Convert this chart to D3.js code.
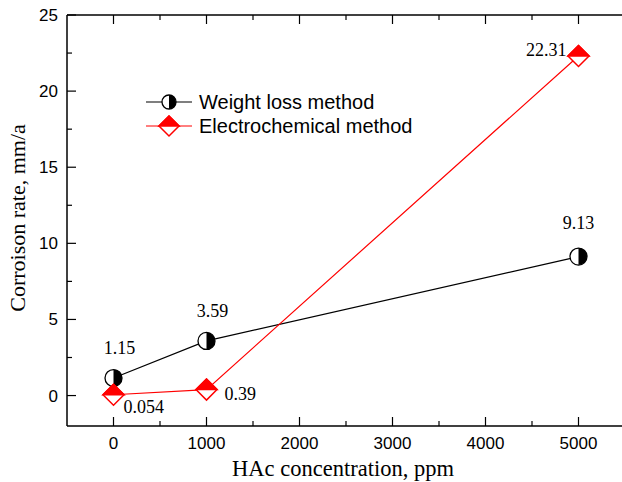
<!DOCTYPE html>
<html>
<head>
<meta charset="utf-8">
<script src="https://cdn.jsdelivr.net/npm/d3@7"></script>
<style>
  body { margin: 0; background: #fff; }
  svg { display: block; }
</style>
</head>
<body>
<div id="chart"></div>
<script>
// data
const concentrations = [0, 1000, 5000];
const weightLoss = [1.15, 3.59, 9.13];
const electrochem = [0.054, 0.39, 22.31];
const weightLabels = ["1.15", "3.59", "9.13"];
const electroLabels = ["0.054", "0.39", "22.31"];
const xTicks = [0, 1000, 2000, 3000, 4000, 5000];
const yTicks = [0, 5, 10, 15, 20, 25];
const seriesNames = ["Weight loss method", "Electrochemical method"];

const W = 622, H = 482;
const SANS = "'Liberation Sans', Arial, sans-serif";
const SERIF = "'Liberation Serif', 'Times New Roman', serif";

const svg = d3.select("#chart").append("svg")
  .attr("width", W).attr("height", H);

const x = d3.scaleLinear().domain([-500, 5500]).range([67, 625]);
const y = d3.scaleLinear().domain([-2, 25]).range([426, 15]);

// frame lines (no right border visible)
svg.append("line").attr("x1", x(-500)).attr("x2", W + 5)
  .attr("y1", y(-2)).attr("y2", y(-2)).attr("stroke", "#000").attr("stroke-width", 1.5);
svg.append("line").attr("x1", x(-500)).attr("x2", W + 5)
  .attr("y1", y(25)).attr("y2", y(25)).attr("stroke", "#000").attr("stroke-width", 1.5);
svg.append("line").attr("x1", x(-500)).attr("x2", x(-500))
  .attr("y1", y(-2)).attr("y2", y(25)).attr("stroke", "#000").attr("stroke-width", 1.5);

// inward ticks
const xMinor = d3.range(500, 5500, 1000);
const yMinor = d3.range(2.5, 25, 5);
const tickG = svg.append("g").attr("stroke", "#000").attr("stroke-width", 1.2);
xTicks.forEach(v => {
  tickG.append("line").attr("x1", x(v)).attr("x2", x(v)).attr("y1", y(-2)).attr("y2", y(-2) - 9);
  tickG.append("line").attr("x1", x(v)).attr("x2", x(v)).attr("y1", y(25)).attr("y2", y(25) + 9);
});
xMinor.forEach(v => {
  tickG.append("line").attr("x1", x(v)).attr("x2", x(v)).attr("y1", y(-2)).attr("y2", y(-2) - 5);
  tickG.append("line").attr("x1", x(v)).attr("x2", x(v)).attr("y1", y(25)).attr("y2", y(25) + 5);
});
yTicks.forEach(v => {
  tickG.append("line").attr("x1", x(-500)).attr("x2", x(-500) + 9).attr("y1", y(v)).attr("y2", y(v));
});
yMinor.forEach(v => {
  tickG.append("line").attr("x1", x(-500)).attr("x2", x(-500) + 5).attr("y1", y(v)).attr("y2", y(v));
});

// tick labels
svg.append("g").selectAll("text").data(xTicks).join("text")
  .attr("x", d => x(d)).attr("y", y(-2) + 23)
  .attr("text-anchor", "middle").attr("font-family", SANS).attr("font-size", 17)
  .text(d => d);
svg.append("g").selectAll("text").data(yTicks).join("text")
  .attr("x", x(-500) - 9).attr("y", d => y(d) + 6)
  .attr("text-anchor", "end").attr("font-family", SANS).attr("font-size", 17)
  .text(d => d);

// axis titles
svg.append("text")
  .attr("x", 343).attr("y", 476)
  .attr("text-anchor", "middle").attr("font-family", SERIF).attr("font-size", 22.5)
  .text("HAc concentration, ppm");
svg.append("text")
  .attr("transform", "translate(25,218) rotate(-90)")
  .attr("text-anchor", "middle").attr("font-family", SERIF).attr("font-size", 22)
  .text("Corroison rate, mm/a");

// markers
function halfCircle(g, cx, cy, r) {
  g.append("circle").attr("cx", cx).attr("cy", cy).attr("r", r)
    .attr("fill", "#fff").attr("stroke", "#000").attr("stroke-width", 1.3);
  g.append("path")
    .attr("d", `M${cx},${cy - r} A${r},${r} 0 0 1 ${cx},${cy + r} Z`)
    .attr("fill", "#000");
}
function halfDiamond(g, cx, cy, s) {
  g.append("path")
    .attr("d", `M${cx},${cy - s} L${cx + s},${cy} L${cx},${cy + s} L${cx - s},${cy} Z`)
    .attr("fill", "#fff").attr("stroke", "red").attr("stroke-width", 1.5);
  g.append("path")
    .attr("d", `M${cx},${cy - s} L${cx + s},${cy} L${cx - s},${cy} Z`)
    .attr("fill", "red").attr("stroke", "red").attr("stroke-width", 1.5);
}

const line = d3.line().x(d => x(d[0])).y(d => y(d[1]));
const wPts = concentrations.map((c, i) => [c, weightLoss[i]]);
const ePts = concentrations.map((c, i) => [c, electrochem[i]]);

svg.append("path").datum(wPts).attr("d", line)
  .attr("fill", "none").attr("stroke", "#000").attr("stroke-width", 1.2);
svg.append("path").datum(ePts).attr("d", line)
  .attr("fill", "none").attr("stroke", "red").attr("stroke-width", 1.2);

const mg = svg.append("g");
wPts.forEach(p => halfCircle(mg, x(p[0]), y(p[1]), 8.5));
ePts.forEach(p => halfDiamond(mg, x(p[0]), y(p[1]), 10.5));

// value labels
const wOff = [[6, -24], [6, -24], [0, -28]];
const eOff = [[10, 12], [18, 4], [-12, -6]];
const labG = svg.append("g").attr("font-family", SERIF).attr("font-size", 18);
wPts.forEach((p, i) => {
  labG.append("text").attr("x", x(p[0]) + wOff[i][0]).attr("y", y(p[1]) + wOff[i][1])
    .attr("text-anchor", "middle").text(weightLabels[i]);
});
ePts.forEach((p, i) => {
  labG.append("text").attr("x", x(p[0]) + eOff[i][0]).attr("y", y(p[1]) + eOff[i][1] + 6)
    .attr("text-anchor", i === 2 ? "end" : "start").text(electroLabels[i]);
});

// legend
const legend = svg.append("g").attr("font-family", SANS).attr("font-size", 20);
[0, 1].forEach(i => {
  const ly = 102 + i * 24;
  legend.append("line").attr("x1", 146).attr("x2", 192).attr("y1", ly).attr("y2", ly)
    .attr("stroke", i === 0 ? "#000" : "red").attr("stroke-width", 1.2);
  if (i === 0) halfCircle(legend, 169, ly, 7);
  else halfDiamond(legend, 169, ly, 10);
  legend.append("text").attr("x", 199).attr("y", ly + 7).text(seriesNames[i]);
});
</script>
</body>
</html>
